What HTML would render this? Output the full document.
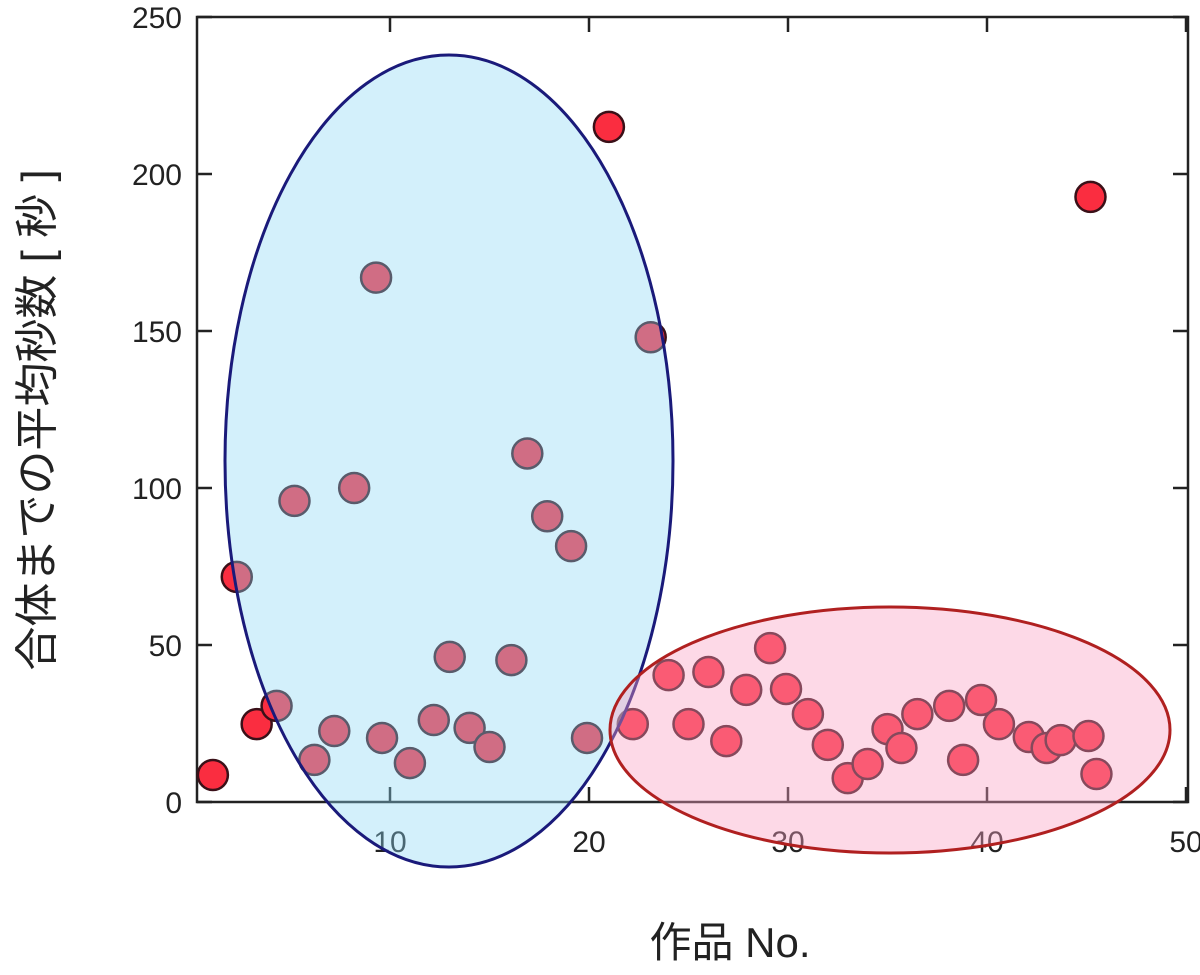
<!DOCTYPE html>
<html><head><meta charset="utf-8"><style>
body{margin:0;background:#fff}
svg text{font-family:"Liberation Sans","Noto Sans CJK JP",sans-serif;fill:#222}
</style></head><body>
<svg id="chart" width="1200" height="970" xmlns="http://www.w3.org/2000/svg">
<rect x="197" y="17" width="991" height="785" fill="none" stroke="#222" stroke-width="2.5"/>
<g id="ticks"></g>
<g id="points"></g>
<ellipse cx="449" cy="461" rx="224" ry="406" fill="rgba(140,215,245,0.38)" stroke="#1a1a7a" stroke-width="3"/>
<ellipse cx="890" cy="730" rx="280" ry="123" fill="rgba(250,160,195,0.4)" stroke="#b02020" stroke-width="3"/>
<text x="730" y="957" font-size="42" text-anchor="middle">作品 No.</text>
<text transform="translate(52,420) rotate(-90)" font-size="44" text-anchor="middle">合体までの平均秒数 [ 秒 ]</text>
</svg>
<script>
const xValues=[1.1,2.3,3.3,4.3,5.2,6.2,7.2,8.2,9.3,9.6,11.0,12.2,13.0,14.0,15.0,16.1,16.9,17.9,19.1,19.9,21.0,22.2,23.1,24.0,25.0,26.0,26.9,27.9,29.1,29.9,31.0,32.0,33.0,34.0,35.0,35.7,36.5,38.1,38.8,39.7,40.6,42.1,43.0,43.7,45.1,45.2,45.5];
const yValues=[8.6,71.7,24.8,30.6,95.9,13.4,22.6,100,167,20.4,12.4,26.1,46.2,23.6,17.5,45.2,111,91,81.5,20.4,215,24.8,148,40.4,24.8,41.4,19.4,35.7,49,36,28,18.2,7.6,12.1,23.2,17.2,28,30.6,13.4,32.5,24.8,20.7,17.2,19.7,21,192.7,8.9];
const xTicks=[10,20,30,40,50];
const yTicks=[0,50,100,150,200,250];
const X=v=>191+v*19.9, Y=v=>802-v*3.14;
const NS="http://www.w3.org/2000/svg";
const tg=document.getElementById('ticks'), pg=document.getElementById('points');
function mk(tag,attrs,parent){const e=document.createElementNS(NS,tag);for(const k in attrs)e.setAttribute(k,attrs[k]);parent.appendChild(e);return e;}
xTicks.forEach(t=>{
 const l=mk('line',{x1:X(t),x2:X(t),y1:802,y2:787,stroke:'#222','stroke-width':2.5},tg);
 
 
 const l2=mk('line',{x1:X(t),x2:X(t),y1:17,y2:32,stroke:'#222','stroke-width':2.5},tg);
 
 
 const tx=mk('text',{x:X(t),y:852,'font-size':30,'text-anchor':'middle'},tg);tx.textContent=t;
 
 
});
yTicks.forEach(t=>{
 const l=mk('line',{x1:197,x2:212,y1:Y(t),y2:Y(t),stroke:'#222','stroke-width':2.5},tg);
 
 
 const l2=mk('line',{x1:1173,x2:1188,y1:Y(t),y2:Y(t),stroke:'#222','stroke-width':2.5},tg);
 
 
 const tx=mk('text',{x:182,y:Y(t)+11,'font-size':30,'text-anchor':'end'},tg);tx.textContent=t;
 
 
});
xValues.forEach((v,i)=>{
 const c=mk('circle',{cx:X(v),cy:Y(yValues[i]),r:15,fill:'#fa2d40',stroke:'#3a1018','stroke-width':2.5},pg);
 
 
});
</script>
</body></html>
